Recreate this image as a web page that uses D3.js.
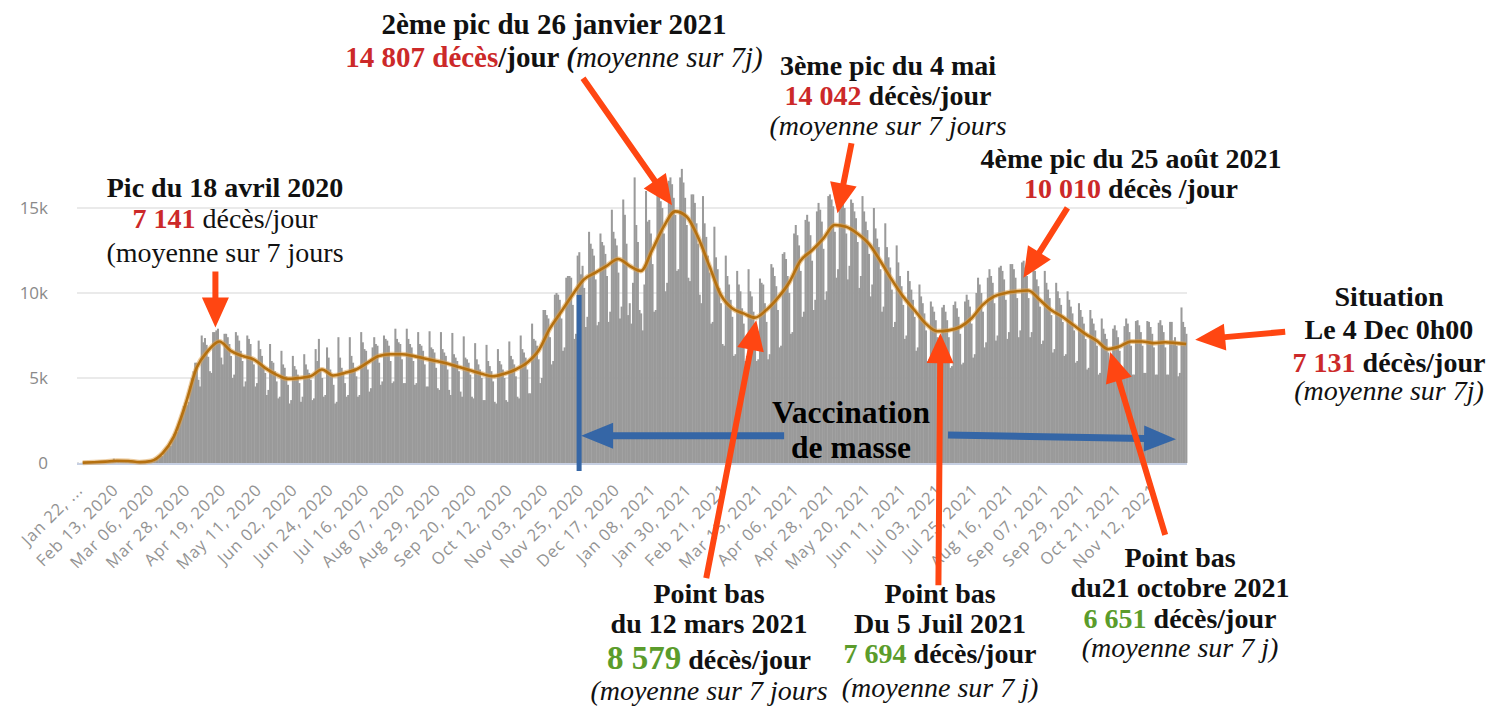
<!DOCTYPE html>
<html>
<head>
<meta charset="utf-8">
<script src="https://cdn.jsdelivr.net/npm/d3@7"></script>
<style>
  body { margin: 0; background: #fff; }
  svg { display: block; }
</style>
</head>
<body>
<svg width="1506" height="706"></svg>
<script>
// first day of the series
const START = '2020-01-22';

// daily deaths worldwide, one row per week (Wed -> Tue)
const deaths = [
  17, 1, 8, 16, 14, 26, 49,
  2, 38, 42, 46, 45, 57, 64,
  66, 72, 73, 86, 89, 97, 108,
  97, 254, 121, 143, 142, 106, 98,
  139, 115, 118, 109, 97, 150, 71,
  52, 29, 44, 37, 64, 57, 67,
  84, 94, 104, 102, 95, 208, 273,
  327, 357, 446, 423, 652, 853, 958,
  1060, 1010, 1340, 1700, 1730, 1820, 2180,
  2550, 2800, 3350, 3560, 3400, 3600, 4520,
  5000, 5400, 5900, 5900, 4900, 4500, 7500,
  7100, 7350, 6950, 6250, 5400, 5300, 7700,
  7700, 7800, 7900, 7100, 6200, 5800, 7600,
  7600, 7400, 7000, 6300, 5000, 5200, 7700,
  7500, 7200, 6600, 6000, 4500, 4800, 7500,
  7300, 7000, 6200, 5800, 4500, 4700, 7200,
  6700, 6300, 5600, 5300, 4000, 4300, 7000,
  6000, 5900, 5400, 4800, 3800, 3900, 6600,
  5800, 5600, 5100, 4600, 3500, 3700, 6300,
  5700, 5500, 5200, 4700, 3600, 3900, 6400,
  5800, 5500, 5300, 4900, 3700, 3800, 6700,
  6000, 7300, 5400, 5000, 3900, 4000, 6800,
  6200, 5500, 5200, 4600, 3500, 3600, 7400,
  6200, 5600, 5300, 4700, 3900, 4000, 7400,
  6300, 5900, 5600, 5100, 3900, 4000, 7700,
  7100, 6700, 6600, 5500, 4200, 4400, 6800,
  7400, 7000, 6900, 5900, 4600, 4800, 7500,
  7300, 7200, 6900, 6000, 4700, 4800, 7900,
  7300, 7100, 7000, 6100, 4700, 4700, 7900,
  7300, 7000, 6800, 6000, 4600, 4700, 7700,
  7000, 6900, 6600, 5800, 4500, 4500, 7750,
  6800, 6700, 6500, 5600, 4400, 4300, 7700,
  6700, 6500, 6300, 5500, 4300, 4000, 7650,
  6400, 6200, 6000, 5400, 4200, 3900, 7450,
  6200, 6100, 5900, 5200, 3900, 3800, 7050,
  6100, 5800, 5500, 5000, 3700, 3700, 6950,
  6000, 5700, 5400, 4800, 3600, 3500, 6700,
  6000, 5800, 5500, 5000, 3700, 3600, 7150,
  6300, 6100, 5800, 5100, 3900, 3800, 7500,
  6700, 6500, 6200, 5500, 4100, 4100, 8200,
  7300, 7200, 6900, 6100, 4700, 5000, 9000,
  9000, 8700, 8500, 7400, 5800, 6000, 9900,
  10000, 9900, 9600, 8500, 6600, 6800, 10900,
  11000, 11000, 10900, 9300, 7300, 7600, 12200,
  12400, 11100, 11600, 10300, 8000, 8600, 13600,
  12900, 12600, 12200, 10800, 8100, 8300, 13500,
  13000, 12800, 12300, 11000, 8300, 8900, 14900,
  13600, 13200, 12800, 11200, 8500, 9200, 15500,
  14600, 12900, 8700, 9400, 8200, 10600, 16800,
  14000, 13000, 9000, 8800, 7800, 10500, 16000,
  14200, 14300, 13500, 11700, 8900, 9000, 16400,
  16100, 15400, 15000, 13500, 10100, 10600, 16600,
  16800, 16400, 15600, 14600, 11300, 11400, 16800,
  17300, 16500, 15600, 14000, 10900, 10700, 15800,
  15800, 15300, 14100, 12900, 9900, 9400, 15700,
  14100, 13300, 12200, 11200, 8200, 8300, 13900,
  12100, 11400, 10300, 9400, 7000, 6900, 12200,
  11000, 10500, 9600, 8600, 6300, 6400, 11300,
  10500, 10100, 9100, 8200, 6000, 6300, 11400,
  10100, 9800, 8900, 8100, 6000, 6100, 10850,
  10600, 10500, 9400, 8300, 6100, 6400, 11700,
  11500, 11000, 10400, 9000, 6800, 6900, 12300,
  12400, 12000, 11000, 10000, 7600, 7700, 13500,
  14000, 13400, 12800, 11300, 8600, 8900, 14300,
  14600, 14200, 13400, 11900, 9000, 9600, 14800,
  15300, 14900, 14200, 12600, 9600, 10100, 15700,
  15800, 15500, 15100, 13600, 10900, 11400, 15700,
  15600, 15300, 15000, 13500, 10800, 11600, 15500,
  15300, 14800, 14400, 13000, 10300, 11000, 15700,
  14800, 14200, 13700, 12300, 9800, 10500, 15000,
  13800, 13200, 12700, 11400, 8900, 9200, 14100,
  12700, 12100, 11500, 10200, 8000, 8300, 12800,
  11800, 11000, 10400, 9300, 7300, 7500, 11300,
  10700, 10200, 9600, 8600, 6600, 6800, 10500,
  9800, 9400, 8800, 7800, 6000, 6100, 9500,
  9200, 8900, 8400, 7400, 5600, 5600, 9150,
  9300, 8900, 8400, 7400, 5600, 5700, 9300,
  9500, 9100, 8600, 7600, 5800, 5900, 9500,
  9900, 9600, 9200, 8200, 6200, 6400, 10000,
  10900, 10500, 10000, 8900, 6800, 7100, 10900,
  11400, 11000, 10600, 9400, 7200, 7500, 11500,
  11600, 11300, 10800, 9600, 7300, 7700, 11700,
  11700, 11400, 10900, 9700, 7400, 7800, 11800,
  11900, 11500, 11000, 9700, 7400, 7700, 11850,
  11300, 10800, 10400, 9200, 7000, 7200, 11300,
  10600, 10200, 9700, 8700, 6500, 6700, 10600,
  10100, 9700, 9300, 8300, 6300, 6400, 10100,
  9600, 9200, 8800, 7800, 5900, 6000, 9400,
  9000, 8600, 8200, 7300, 5500, 5600, 9000,
  8500, 8200, 7800, 6900, 5200, 5300, 8500,
  7900, 7600, 7300, 6500, 4800, 4900, 7900,
  8100, 7800, 7400, 6600, 5000, 5000, 8050,
  8500, 8200, 7700, 6900, 5200, 5200, 8350,
  8400, 8100, 7700, 6900, 5300, 5300, 8350,
  8300, 8000, 7600, 6800, 5200, 5200, 8250,
  8400, 8100, 7700, 6800, 5200, 5200, 8300,
  8300, 7200, 7400, 6900, 5100, 5300, 9150,
  8300, 8000, 7600
];

// 7-day average, one value per week (middle day of each row above)
const avg7 = [
  20, 45, 80, 130, 115, 50, 120, 570, 1550, 3400,
  5600, 6600, 7150, 6600, 6300, 6100, 5600, 5200, 4950, 5000,
  5100, 5500, 5150, 5300, 5500, 5900, 6300, 6400, 6400, 6300,
  6150, 6000, 5850, 5650, 5450, 5250, 5100, 5250, 5500, 5900,
  6600, 7900, 8900, 9900, 10800, 11200, 11600, 12000, 11600, 11300,
  12550, 13900, 14800, 14500, 13300, 11600, 9900, 9100, 8800, 8550,
  9000, 9700, 10600, 11900, 12500, 13200, 14000, 13900, 13500, 12900,
  11900, 10800, 9800, 9000, 8200, 7750, 7800, 8000, 8500, 9300,
  9800, 10000, 10100, 10150, 9600, 9000, 8600, 8100, 7600, 7200,
  6700, 6850, 7150, 7150, 7050, 7100, 7050
];
const avgLast = 7000;

const tickDates = [
  '2020-01-22', '2020-02-13', '2020-03-06', '2020-03-28', '2020-04-19', '2020-05-11',
  '2020-06-02', '2020-06-24', '2020-07-16', '2020-08-07', '2020-08-29', '2020-09-20',
  '2020-10-12', '2020-11-03', '2020-11-25', '2020-12-17', '2021-01-08', '2021-01-30',
  '2021-02-21', '2021-03-15', '2021-04-06', '2021-04-28', '2021-05-20', '2021-06-11',
  '2021-07-03', '2021-07-25', '2021-08-16', '2021-09-07', '2021-09-29', '2021-10-21',
  '2021-11-12'
];
const yTicks = [0, 5000, 10000, 15000];

const VACCINATION_DATE = '2020-11-25';

// callouts: date and 7-day value that the arrow points to
const callouts = [
  { date: '2020-04-18', value: 7141, dx: -4, gap: -14, tail: [0, -56] },
  { date: '2021-01-26', value: 14807, dx: -8, gap: -6, tail: [-89, -127] },
  { date: '2021-05-04', value: 14042, dx: -2, gap: -11, tail: [14, -70] },
  { date: '2021-08-25', value: 10010, dx: 0, gap: -15, tail: [44, -70] },
  { date: '2021-12-03', value: 7131, dx: 9, gap: -2, tail: [90, -8] },
  { date: '2021-03-12', value: 8579, dx: 3, gap: 3, tail: [-50, 258] },
  { date: '2021-07-05', value: 7694, dx: 0, gap: 1, tail: [-2, 252] },
  { date: '2021-10-21', value: 6651, dx: -6, gap: 2, tail: [55, 183] },
];

// text blocks: [text, style] parts per line
const notes = [
  { x: 225, lines: [
    { y: 197, parts: [['Pic du 18 avril 2020', 'b']] },
    { y: 228, parts: [['7 141', 'rb'], [' décès/jour', 'n']] },
    { y: 262, parts: [['(moyenne sur 7 jours', 'n']] } ] },
  { x: 554, size: 29, lines: [
    { y: 34, parts: [['2ème pic du 26 janvier 2021', 'b']] },
    { y: 67, parts: [['14 807 décès', 'rb'], ['/jour ', 'b'], ['(', 'bi'], ['moyenne sur 7j)', 'i']] } ] },
  { x: 888, lines: [
    { y: 75, parts: [['3ème pic du 4 mai', 'b']] },
    { y: 105, parts: [['14 042', 'rb'], [' décès/jour', 'b']] },
    { y: 135, parts: [['(moyenne sur 7 jours', 'i']] } ] },
  { x: 1131, lines: [
    { y: 168, parts: [['4ème pic du 25 août 2021', 'b']] },
    { y: 198, parts: [['10 010', 'rb'], [' décès /jour', 'b']] } ] },
  { x: 1389, lines: [
    { y: 306, parts: [['Situation', 'b']] },
    { y: 339, parts: [['Le 4 Dec 0h00', 'b']] },
    { y: 372, parts: [['7 131', 'rb'], [' décès/jour', 'b']] },
    { y: 400, parts: [['(moyenne sur 7j)', 'i']] } ] },
  { x: 709, lines: [
    { y: 603, parts: [['Point bas', 'b']] },
    { y: 633, parts: [['du 12 mars 2021', 'b']] },
    { y: 669, parts: [['8 579', 'gbl'], [' décès/jour', 'b']] },
    { y: 700, parts: [['(moyenne sur 7 jours', 'i']] } ] },
  { x: 940, lines: [
    { y: 603, parts: [['Point bas', 'b']] },
    { y: 633, parts: [['Du 5 Juil 2021', 'b']] },
    { y: 663, parts: [['7 694', 'gb'], [' décès/jour', 'b']] },
    { y: 697, parts: [['(moyenne sur 7 j)', 'i']] } ] },
  { x: 1180, lines: [
    { y: 567, parts: [['Point bas', 'b']] },
    { y: 597, parts: [['du21 octobre 2021', 'b']] },
    { y: 628, parts: [['6 651', 'gb'], [' décès/jour', 'b']] },
    { y: 657, parts: [['(moyenne sur 7 j)', 'i']] } ] },
];

const svg = d3.select('svg');
const PLOT = { LEFT: 77, RIGHT: 1187, BASE: 463, TOP: 208 };
const SERIF = "'Liberation Serif', 'Times New Roman', serif";
const SANS = "'Open Sans', 'Noto Sans', sans-serif";
const ORANGE = '#ff4612';
const BLUE = '#3566a6';

const parse = d3.timeParse('%Y-%m-%d');
const start = parse(START);
const dayOf = s => d3.timeDay.count(start, parse(s));
const N = deaths.length;

// scales
const x = d3.scaleBand().domain(d3.range(N)).range([PLOT.LEFT, PLOT.RIGHT]).padding(0);
const xc = i => x(i) + x.bandwidth() / 2;
const y = d3.scaleLinear().domain([0, 15000]).range([PLOT.BASE, PLOT.TOP]);

svg.append('rect').attr('width', 1506).attr('height', 706).attr('fill', '#fff');

// grid
svg.append('g')
  .selectAll('line')
  .data(yTicks.filter(d => d > 0))
  .join('line')
  .attr('x1', PLOT.LEFT).attr('x2', PLOT.RIGHT)
  .attr('y1', d => y(d)).attr('y2', d => y(d))
  .attr('stroke', '#e3e3e3').attr('stroke-width', 1.5);

// y axis
const yAxis = svg.append('g')
  .attr('transform', `translate(${PLOT.LEFT},0)`)
  .call(d3.axisLeft(y).tickValues(yTicks).tickSize(0).tickPadding(29)
    .tickFormat(d => d === 0 ? '0' : d / 1000 + 'k'));
yAxis.select('.domain').remove();
yAxis.selectAll('text')
  .attr('fill', '#8a8a8a').attr('font-family', SANS).attr('font-size', 17);

// bars
svg.append('g')
  .selectAll('rect')
  .data(deaths)
  .join('rect')
  .attr('x', (d, i) => x(i))
  .attr('width', x.bandwidth() + 0.4)
  .attr('y', d => y(d))
  .attr('height', d => y(0) - y(d))
  .attr('fill', '#9a9a9a');

// baseline
svg.append('line')
  .attr('x1', PLOT.LEFT).attr('x2', PLOT.RIGHT)
  .attr('y1', y(0) + 1).attr('y2', y(0) + 1)
  .attr('stroke', '#c6cfe2').attr('stroke-width', 2);

// x axis
const tickDays = tickDates.map(dayOf);
const fmt = d3.timeFormat('%b %d, %Y');
const xAxis = svg.append('g')
  .attr('transform', `translate(0,${PLOT.BASE})`)
  .call(d3.axisBottom(x).tickValues(tickDays).tickSize(0)
    .tickFormat((d, i) => i === 0 ? 'Jan 22, ...' : fmt(d3.timeDay.offset(start, d))));
xAxis.select('.domain').remove();
xAxis.selectAll('text')
  .attr('y', 0).attr('dy', 0)
  .attr('transform', 'translate(6,28) rotate(-45)')
  .attr('text-anchor', 'end')
  .attr('letter-spacing', 0.9)
  .attr('fill', '#939393').attr('font-family', SANS).attr('font-size', 16.5);

// 7-day average
const pts = avg7.map((v, i) => ({ day: 3 + 7 * i, v }));
pts.push({ day: N - 1, v: avgLast });
const line = d3.line().x(d => xc(d.day)).y(d => y(d.v)).curve(d3.curveMonotoneX);
svg.append('path').attr('d', line(pts))
  .attr('fill', 'none').attr('stroke', '#dca04e').attr('stroke-width', 5).attr('opacity', 0.55);
svg.append('path').attr('d', line(pts))
  .attr('fill', 'none').attr('stroke', '#b5700f').attr('stroke-width', 2.6);

// arrow as a filled polygon
function arrow(g, x1, y1, x2, y2, o) {
  const { w = 6, hw = 27, hl = 30, color = ORANGE } = o || {};
  const L = Math.hypot(x2 - x1, y2 - y1);
  const ux = (x2 - x1) / L, uy = (y2 - y1) / L, px = -uy, py = ux;
  const bx = x2 - ux * hl, by = y2 - uy * hl;
  const p = [
    [x1 + px * w / 2, y1 + py * w / 2],
    [bx + px * w / 2, by + py * w / 2],
    [bx + px * hw / 2, by + py * hw / 2],
    [x2, y2],
    [bx - px * hw / 2, by - py * hw / 2],
    [bx - px * w / 2, by - py * w / 2],
    [x1 - px * w / 2, y1 - py * w / 2],
  ];
  g.append('path').attr('d', d3.line()(p) + 'Z').attr('fill', color);
}

// vaccination marker
const vg = svg.append('g');
const vx = xc(dayOf(VACCINATION_DATE));
vg.append('line')
  .attr('x1', vx).attr('x2', vx)
  .attr('y1', y(10000) + 2).attr('y2', y(0) + 8)
  .attr('stroke', BLUE).attr('stroke-width', 5);
arrow(vg, vx + 205, y(1600), vx + 2, y(1600), { w: 7, hw: 26, hl: 32, color: BLUE });
arrow(vg, 948, y(1650), 1176, y(1400), { w: 7, hw: 26, hl: 32, color: BLUE });

vg.append('text')
  .attr('x', 851).attr('y', 423)
  .attr('text-anchor', 'middle')
  .attr('font-family', SERIF).attr('font-weight', 'bold').attr('font-size', 31.5)
  .text('Vaccination');
vg.append('text')
  .attr('x', 851).attr('y', 458)
  .attr('text-anchor', 'middle')
  .attr('font-family', SERIF).attr('font-weight', 'bold').attr('font-size', 31.5)
  .text('de masse');

// callout arrows
const ag = svg.append('g');
callouts.forEach(c => {
  const tx = xc(dayOf(c.date)) + c.dx;
  const ty = y(c.value) + c.gap;
  arrow(ag, tx + c.tail[0], ty + c.tail[1], tx, ty);
});

// text blocks
const STYLE = {
  b: { fill: '#111', weight: 'bold', style: 'normal' },
  n: { fill: '#111', weight: 'normal', style: 'normal' },
  i: { fill: '#111', weight: 'normal', style: 'italic' },
  bi: { fill: '#111', weight: 'bold', style: 'italic' },
  rb: { fill: '#cc2929', weight: 'bold', style: 'normal' },
  gb: { fill: '#5b9c2b', weight: 'bold', style: 'normal' },
  gbl: { fill: '#5b9c2b', weight: 'bold', style: 'normal', size: 33 },
};
const tg = svg.append('g').attr('font-family', SERIF).attr('font-size', 28);
notes.forEach(n => {
  n.lines.forEach(l => {
    const t = tg.append('text').attr('x', n.x).attr('y', l.y)
      .attr('text-anchor', 'middle').attr('font-size', n.size || null);
    l.parts.forEach(([s, k]) => {
      const st = STYLE[k];
      t.append('tspan')
        .attr('fill', st.fill)
        .attr('font-weight', st.weight)
        .attr('font-style', st.style)
        .attr('font-size', st.size || null)
        .text(s);
    });
  });
});
</script>
</body>
</html>
